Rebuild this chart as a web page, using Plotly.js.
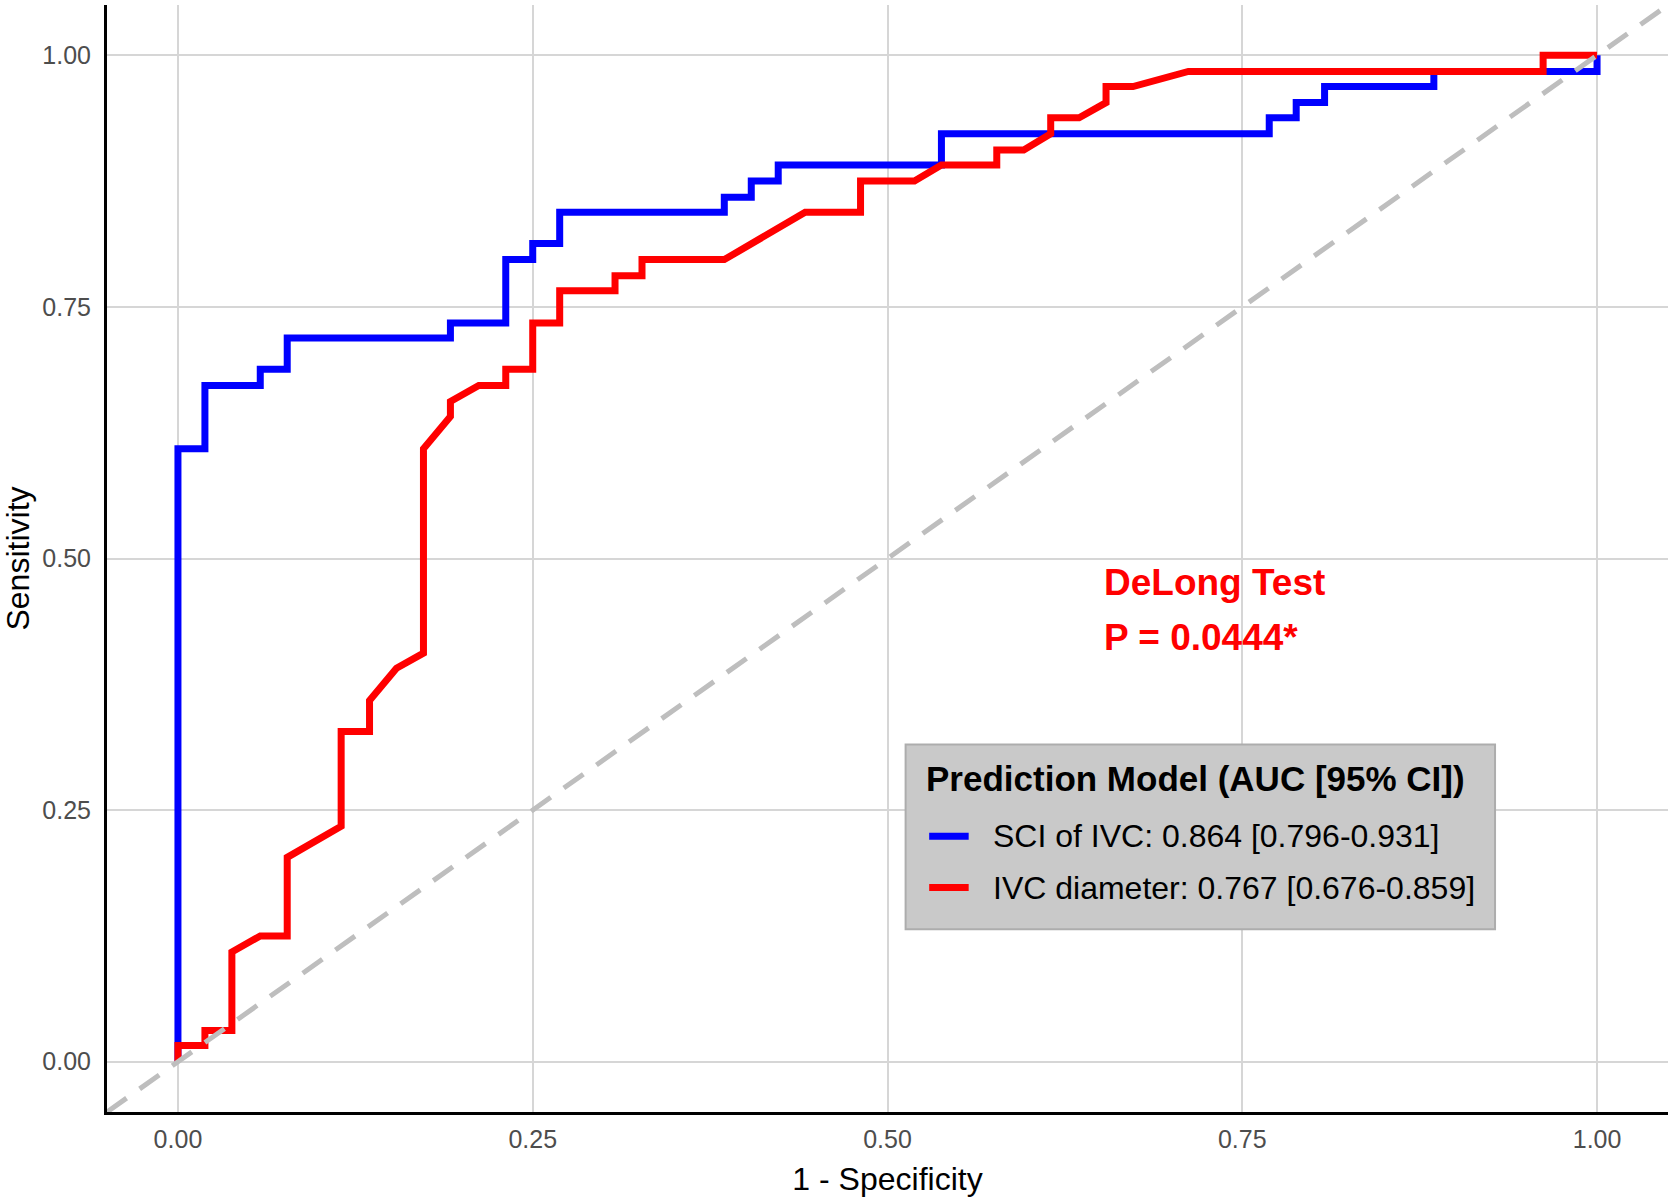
<!DOCTYPE html>
<html>
<head>
<meta charset="utf-8">
<script src="https://cdn.plot.ly/plotly-3.0.1.min.js"></script>
<style>
  html, body { margin: 0; padding: 0; background: #ffffff; }
  #roc { width: 1675px; height: 1201px; }
</style>
</head>
<body>
<div id="roc"></div>
<script>
// ROC curve coordinates: false positive rate (1 - specificity) and sensitivity
const fprSCI = [0, 0, 0.019, 0.019, 0.058, 0.058, 0.077, 0.077, 0.192, 0.192, 0.231, 0.231,
  0.250, 0.250, 0.269, 0.269, 0.385, 0.385, 0.404, 0.404, 0.423, 0.423, 0.538, 0.538,
  0.769, 0.769, 0.788, 0.788, 0.808, 0.808, 0.885, 0.885, 1, 1];
const sensSCI = [0, 0.609, 0.609, 0.672, 0.672, 0.688, 0.688, 0.719, 0.719, 0.734, 0.734, 0.797,
  0.797, 0.813, 0.813, 0.844, 0.844, 0.859, 0.859, 0.875, 0.875, 0.891, 0.891, 0.922,
  0.922, 0.938, 0.938, 0.953, 0.953, 0.969, 0.969, 0.984, 0.984, 1];

const fprIVC = [0, 0, 0.019, 0.019, 0.038, 0.038, 0.058, 0.077, 0.077, 0.115, 0.115, 0.135,
  0.135, 0.154, 0.173, 0.173, 0.192, 0.192, 0.212, 0.231, 0.231, 0.250, 0.250, 0.269,
  0.269, 0.308, 0.308, 0.327, 0.327, 0.385, 0.442, 0.481, 0.481, 0.519, 0.538, 0.577,
  0.577, 0.596, 0.615, 0.615, 0.635, 0.654, 0.654, 0.673, 0.712, 0.962, 0.962, 1];
const sensIVC = [0, 0.016, 0.016, 0.031, 0.031, 0.109, 0.125, 0.125, 0.203, 0.234, 0.328, 0.328,
  0.359, 0.391, 0.406, 0.609, 0.641, 0.656, 0.672, 0.672, 0.688, 0.688, 0.734, 0.734,
  0.766, 0.766, 0.781, 0.781, 0.797, 0.797, 0.844, 0.844, 0.875, 0.875, 0.891, 0.891,
  0.906, 0.906, 0.922, 0.938, 0.938, 0.953, 0.969, 0.969, 0.984, 0.984, 1, 1];

// chance line across the whole panel
const chanceX = [-0.05, 1.05];
const chanceY = [-0.05, 1.05];

const seriesNames = ["SCI of IVC: 0.864 [0.796-0.931]", "IVC diameter: 0.767 [0.676-0.859]"];
const seriesColors = ["#0000FF", "#FF0000"];
const legendTitle = "Prediction Model (AUC [95% CI])";

const tickVals = [0, 0.25, 0.5, 0.75, 1];
const tickText = ["0.00", "0.25", "0.50", "0.75", "1.00"];

const testLines = ["DeLong Test", "P = 0.0444*"];

const FONT = "Liberation Sans, Arial, sans-serif";
const CURVE_WIDTH = 7;

const traces = [
  {
    x: fprSCI, y: sensSCI, type: "scatter", mode: "lines", name: seriesNames[0],
    line: { color: seriesColors[0], width: CURVE_WIDTH }, hoverinfo: "skip", showlegend: false
  },
  {
    x: fprIVC, y: sensIVC, type: "scatter", mode: "lines", name: seriesNames[1],
    line: { color: seriesColors[1], width: CURVE_WIDTH }, hoverinfo: "skip", showlegend: false
  },
  {
    x: chanceX, y: chanceY, type: "scatter", mode: "lines", showlegend: false,
    line: { color: "#BEBEBE", width: 5, dash: "24px,16px" }, hoverinfo: "skip"
  }
];

const axisCommon = {
  range: [-0.05, 1.05],
  tickvals: tickVals,
  ticktext: tickText,
  tickfont: { family: FONT, size: 25, color: "#4D4D4D" },
  ticks: "outside",
  tickcolor: "rgba(0,0,0,0)",
  showgrid: true,
  gridcolor: "#D6D6D6",
  gridwidth: 2,
  zeroline: false,
  showline: true,
  linecolor: "#000000",
  linewidth: 3,
  mirror: false,
  fixedrange: true
};

// legend panel, placed in the lower right of the plotting area (paper units)
const legendBox = { x0: 0.5116, x1: 0.8892, y0: 0.1651, y1: 0.3320 };
const legendTitlePos = { x: 0.5233, y: 0.3012 };
const legendKeyX = [0.5267, 0.5520];
const legendTextX = 0.5663;
const legendRowY = [0.2490, 0.2027];

const shapes = [
  {
    type: "rect", xref: "paper", yref: "paper",
    x0: legendBox.x0, x1: legendBox.x1, y0: legendBox.y0, y1: legendBox.y1,
    fillcolor: "#C9C9C9", line: { color: "#ADADAD", width: 2 }, layer: "above"
  }
];
const annotations = [
  {
    x: 0.651, y: 0.476, xref: "x", yref: "y", xanchor: "left", yanchor: "middle",
    text: testLines[0], showarrow: false,
    font: { family: FONT, size: 37, color: "#FF0000", weight: "bold" }
  },
  {
    x: 0.651, y: 0.422, xref: "x", yref: "y", xanchor: "left", yanchor: "middle",
    text: testLines[1], showarrow: false,
    font: { family: FONT, size: 37, color: "#FF0000", weight: "bold" }
  },
  {
    x: legendTitlePos.x, y: legendTitlePos.y, xref: "paper", yref: "paper",
    xanchor: "left", yanchor: "middle", showarrow: false, text: legendTitle,
    font: { family: FONT, size: 35, color: "#000000", weight: "bold" }
  }
];
seriesNames.forEach(function (name, i) {
  shapes.push({
    type: "line", xref: "paper", yref: "paper",
    x0: legendKeyX[0], x1: legendKeyX[1], y0: legendRowY[i], y1: legendRowY[i],
    line: { color: seriesColors[i], width: CURVE_WIDTH }, layer: "above"
  });
  annotations.push({
    x: legendTextX, y: legendRowY[i], xref: "paper", yref: "paper",
    xanchor: "left", yanchor: "middle", showarrow: false, text: name,
    font: { family: FONT, size: 32, color: "#000000" }
  });
});

const layout = {
  width: 1675,
  height: 1201,
  margin: { l: 107, r: 7, t: 5, b: 89 },
  paper_bgcolor: "#FFFFFF",
  plot_bgcolor: "#FFFFFF",
  font: { family: FONT, color: "#000000" },
  xaxis: Object.assign({}, axisCommon, {
    ticklen: 3,
    title: { text: "1 - Specificity", font: { family: FONT, size: 32, color: "#000000" }, standoff: 16 }
  }),
  yaxis: Object.assign({}, axisCommon, {
    ticklen: 8,
    title: { text: "Sensitivity", font: { family: FONT, size: 32, color: "#000000" }, standoff: 14 }
  }),
  shapes: shapes,
  annotations: annotations,
  showlegend: false
};

Plotly.newPlot("roc", traces, layout, { staticPlot: true, displayModeBar: false });
</script>
</body>
</html>
